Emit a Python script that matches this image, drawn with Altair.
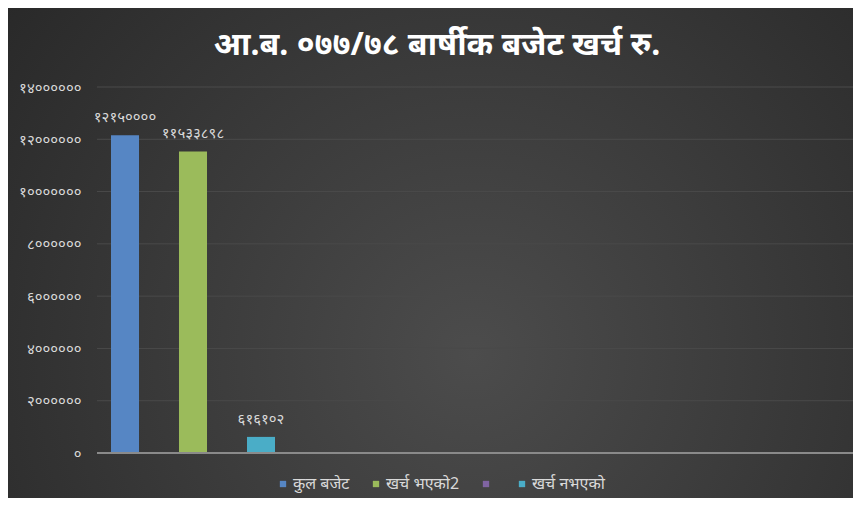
import altair as alt
import pandas as pd

# ---- data ----
series = ["कुल बजेट", "खर्च भएको2", " ", "खर्च नभएको"]
bar_order = ["कुल बजेट", "खर्च भएको2", "खर्च नभएको", " "]
values = [12150000, 11533898, None, 616102]
value_labels = ["१२१५००००", "११५३३८९८", "", "६१६१०२"]
colors = ["#5686C4", "#9BBB5B", "#8064A2", "#4AADC7"]
tick_values = [0, 2000000, 4000000, 6000000, 8000000, 10000000, 12000000, 14000000]
tick_labels = ["०", "२००००००", "४००००००", "६००००००", "८००००००", "१०००००००", "१२००००००", "१४००००००"]
title_text = ["आ.ब. ०७७/७८ बार्षीक बजेट खर्च रु."]

FONT = "Noto Sans"
W, H = 756, 366
PAD = {"left": 89, "top": 79, "right": 0, "bottom": 45}

bars_df = pd.DataFrame({"series": series, "value": values, "label": value_labels}).dropna()
grid_df = pd.DataFrame({"tick": tick_values})
title_df = pd.DataFrame({"t": title_text})

label_expr = "[" + ",".join("'" + t + "'" for t in tick_labels) + "][round(datum.value/2000000)]"

yscale = alt.Scale(domain=[0, 14000000])
yaxis = alt.Axis(values=tick_values, labelExpr=label_expr, title=None, domain=False,
                 ticks=False, tickSize=0, grid=False, labelPadding=16, zindex=2,
                 labelColor="#d9d9d9", labelFontSize=15, labelFont=FONT)
xscale = alt.Scale(domain=bar_order, range=[14, 246], paddingInner=0.588, paddingOuter=0)
cscale = alt.Scale(domain=series, range=colors)

bg = alt.Chart(alt.Data(values=[{}])).mark_rect(
    color={"gradient": "radial", "x1": 0.55, "y1": 0.62, "r1": 0.0,
           "x2": 0.55, "y2": 0.62, "r2": 0.75,
           "stops": [{"offset": 0, "color": "#4c4c4c"}, {"offset": 1, "color": "#262626"}]}
).encode(x=alt.value(-PAD["left"]), x2=alt.value(W + PAD["right"]),
         y=alt.value(-PAD["top"]), y2=alt.value(H + PAD["bottom"]))

grid = alt.Chart(grid_df).mark_rule(color="#4a4a4a", strokeWidth=1).encode(
    y=alt.Y("tick:Q", scale=yscale, axis=yaxis),
    x=alt.value(0), x2=alt.value(W))

bars = alt.Chart(bars_df).mark_bar().encode(
    x=alt.X("series:N", scale=xscale, axis=None),
    y=alt.Y("value:Q", scale=yscale, axis=yaxis),
    color=alt.Color("series:N", scale=cscale, legend=alt.Legend(
        orient="none", legendX=178, legendY=389, direction="horizontal", title=None,
        symbolType="square", symbolSize=40, symbolStrokeWidth=0, labelColor="#d9d9d9",
        labelFontSize=16, labelFont=FONT, columnPadding=18, labelOffset=2, zindex=2)))

zero = alt.Chart(alt.Data(values=[{}])).mark_rule(color="#8a8a8a", strokeWidth=2).encode(
    y=alt.datum(0, scale=yscale, axis=yaxis), x=alt.value(0), x2=alt.value(W))

texts = alt.Chart(bars_df).mark_text(baseline="bottom", dy=-10, color="#d9d9d9",
                                     fontSize=15, font=FONT).encode(
    x=alt.X("series:N", scale=xscale, axis=None, bandPosition=0.5),
    y=alt.Y("value:Q", scale=yscale, axis=yaxis),
    text="label:N")

title = alt.Chart(title_df).mark_text(fontSize=32, fontWeight="bold", color="#ffffff",
                                      font=FONT, align="center", baseline="middle").encode(
    x=alt.value(W / 2 - 38), y=alt.value(-42), text="t:N")

chart = alt.layer(bg, grid, bars, zero, texts, title).properties(
    width=W, height=H, padding=PAD, autosize=alt.AutoSizeParams(type="none"),
    background="#262626"
).configure_view(strokeWidth=0)

chart.save("out.html", embed_options={"renderer": "svg", "actions": False})
